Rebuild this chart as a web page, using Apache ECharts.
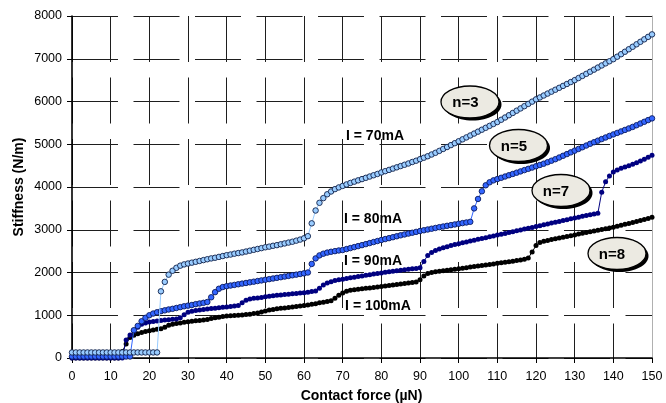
<!DOCTYPE html>
<html><head><meta charset="utf-8">
<script src="https://cdn.jsdelivr.net/npm/echarts@6/dist/echarts.min.js"></script>
<style>html,body{margin:0;padding:0;background:#fff}#c{width:666px;height:403px}</style>
</head><body><div id="c"></div>
<script>
// Contact force (µN) sample positions
const forceX = [
0,1,2,3,4,5,6,7,8,9,
10,11,12,13,14,15,16,17,18,19,
20,21,22,23,24,25,26,27,28,29,
30,31,32,33,34,35,36,37,38,39,
40,41,42,43,44,45,46,47,48,49,
50,51,52,53,54,55,56,57,58,59,
60,61,62,63,64,65,66,67,68,69,
70,71,72,73,74,75,76,77,78,79,
80,81,82,83,84,85,86,87,88,89,
90,91,92,93,94,95,96,97,98,99,
100,101,102,103,104,105,106,107,108,109,
110,111,112,113,114,115,116,117,118,119,
120,121,122,123,124,125,126,127,128,129,
130,131,132,133,134,135,136,137,138,139,
140,141,142,143,144,145,146,147,148,149,
150];

// n=3 (I = 70mA)
const stiffN3 = [
130,130,130,130,130,130,130,130,130,130,
130,130,130,130,130,130,130,130,130,130,
130,130,130,1560,1780,1950,2040,2110,2160,2190,
2210,2230,2250,2270,2290,2310,2330,2345,2365,2385,
2405,2420,2440,2455,2470,2490,2510,2530,2550,2570,
2590,2605,2625,2640,2660,2680,2700,2720,2745,2770,
2800,2850,3150,3450,3630,3740,3830,3895,3950,3990,
4025,4060,4095,4125,4155,4185,4215,4245,4275,4305,
4340,4370,4400,4430,4460,4490,4520,4550,4585,4615,
4650,4685,4720,4760,4800,4845,4890,4935,4980,5025,
5070,5115,5160,5205,5250,5295,5340,5385,5430,5475,
5520,5573,5626,5679,5732,5785,5838,5891,5944,5997,
6050,6095,6140,6185,6230,6275,6320,6365,6410,6455,
6500,6549,6598,6647,6696,6745,6794,6843,6892,6941,
6990,7048,7106,7164,7222,7280,7338,7396,7454,7512,
7570];

// n=5 (I = 80mA)
const stiffN5 = [
35,35,35,35,35,35,35,35,35,35,
35,35,35,35,35,35,650,750,860,940,
1000,1040,1070,1095,1115,1135,1150,1170,1190,1210,
1225,1240,1260,1275,1290,1310,1420,1540,1620,1660,
1680,1695,1710,1725,1740,1755,1770,1785,1800,1815,
1830,1845,1860,1875,1890,1905,1920,1935,1950,1965,
1980,2000,2200,2330,2400,2440,2465,2485,2500,2515,
2525,2548,2571,2594,2617,2640,2664,2688,2712,2736,
2760,2782,2804,2826,2848,2870,2890,2910,2930,2950,
2970,2988,3006,3024,3042,3060,3076,3092,3108,3124,
3140,3155,3170,3185,3500,3720,3900,4040,4110,4155,
4185,4215,4245,4275,4305,4335,4365,4395,4425,4455,
4485,4515,4545,4580,4615,4650,4690,4730,4770,4810,
4850,4890,4930,4970,5010,5047,5084,5121,5158,5195,
5230,5265,5300,5335,5370,5405,5445,5485,5525,5565,
5605];

// n=7 (I = 90mA)
const stiffN7 = [
0,0,0,0,0,0,0,0,0,0,
0,0,0,0,420,540,630,720,790,820,
840,855,868,878,888,896,904,912,940,1010,
1070,1095,1110,1125,1135,1145,1155,1165,1175,1185,
1195,1205,1215,1230,1290,1350,1380,1395,1405,1418,
1430,1442,1454,1465,1475,1485,1494,1502,1510,1518,
1528,1540,1553,1570,1630,1705,1755,1785,1810,1830,
1845,1860,1875,1890,1905,1920,1935,1950,1963,1976,
1990,2003,2016,2029,2042,2055,2065,2075,2085,2095,
2110,2260,2400,2470,2515,2550,2580,2605,2630,2655,
2675,2695,2715,2735,2755,2775,2795,2815,2835,2855,
2875,2895,2915,2935,2955,2975,2995,3015,3035,3055,
3075,3095,3115,3135,3155,3175,3195,3215,3235,3255,
3275,3295,3315,3335,3352,3368,3385,3880,4120,4260,
4350,4400,4440,4470,4500,4535,4570,4610,4650,4695,
4740];

// n=8 (I = 100mA)
const stiffN8 = [
0,0,0,0,0,0,0,0,0,0,
0,0,0,150,330,480,530,565,595,620,
640,655,670,685,720,765,790,805,820,835,
848,860,870,878,886,900,925,940,955,970,
980,988,995,1000,1008,1015,1025,1040,1055,1075,
1100,1120,1135,1150,1162,1172,1182,1192,1202,1215,
1228,1240,1255,1270,1290,1305,1320,1340,1400,1470,
1520,1560,1585,1598,1610,1620,1630,1640,1650,1660,
1670,1682,1694,1706,1718,1730,1742,1754,1766,1780,
1830,1920,1975,2000,2015,2030,2042,2054,2066,2078,
2090,2102,2114,2126,2138,2150,2162,2175,2188,2201,
2214,2227,2240,2253,2266,2279,2292,2310,2340,2480,
2630,2700,2730,2750,2770,2790,2808,2826,2844,2862,
2880,2898,2916,2934,2952,2970,2988,3006,3024,3042,
3060,3082,3104,3126,3148,3170,3194,3218,3242,3266,
3290];

const seriesNames = ['n=8', 'n=7', 'n=5', 'n=3'];
const currentLabels = ['I = 70mA', 'I = 80mA', 'I = 90mA', 'I = 100mA'];
const xTitle = 'Contact force (µN)';
const yTitle = 'Stiffness (N/m)';

const FONT = '"Liberation Sans", Arial, sans-serif';
function pairs(ys) { return forceX.map((x, i) => [x, ys[i]]); }

const chart = echarts.init(document.getElementById('c'), null, {renderer: 'canvas'});
const gridDash = { color: '#1e1e1e', width: 1, type: [46, 15.5] };

function bubble(cx, cy, label, tx) {
  return [
    { type: 'ellipse', z: 100, shape: { cx: cx + 2.5, cy: cy + 2.5, rx: 29, ry: 16 }, style: { fill: '#000' } },
    { type: 'ellipse', z: 101, shape: { cx: cx, cy: cy, rx: 29, ry: 16 }, style: { fill: '#ECEAE2', stroke: '#000', lineWidth: 1.3 } },
    { type: 'text', z: 102, x: tx, y: cy + 1, style: { text: label, fill: '#000', font: 'bold 15px ' + FONT, textAlign: 'center', textVerticalAlign: 'middle', align: 'center', verticalAlign: 'middle' } }
  ];
}
function tlabel(x, y, txt) {
  return { type: 'text', z: 90, x: x, y: y, style: { text: txt, fill: '#000', font: 'bold 14px ' + FONT, textAlign: 'center', textVerticalAlign: 'middle', align: 'center', verticalAlign: 'middle' } };
}

const option = {
  animation: false,
  backgroundColor: '#fff',
  grid: { left: 72, right: 14, top: 16, bottom: 45, containLabel: false },
  xAxis: {
    type: 'value', min: 0, max: 150, interval: 10,
    axisLine: { onZero: false, lineStyle: { color: '#000', width: 1.6 } },
    axisTick: { show: true, length: 5, lineStyle: { color: '#000', width: 1 } },
    axisLabel: { color: '#000', fontSize: 12.5, fontFamily: FONT, margin: 12, formatter: v => String(v) },
    splitLine: { show: true, showMaxLine: false, lineStyle: gridDash }
  },
  yAxis: [{
    type: 'value', min: 0, max: 8000, interval: 1000,
    axisLine: { show: true, lineStyle: { color: '#000', width: 1.6 } },
    axisTick: { show: true, length: 5, lineStyle: { color: '#000', width: 1 } },
    axisLabel: { color: '#000', fontSize: 12.5, fontFamily: FONT, margin: 10, formatter: v => String(v) },
    splitLine: { show: true, lineStyle: gridDash }
  }, {
    type: 'value', min: 0, max: 8000, interval: 1000, position: 'right',
    axisLine: { show: true, lineStyle: { color: '#b0b0b0', width: 1 } },
    axisTick: { show: false }, axisLabel: { show: false }, splitLine: { show: false }
  }],
  series: [
    { name: seriesNames[0], type: 'line', data: pairs(stiffN8), showAllSymbol: true, symbol: 'circle', symbolSize: 5,
      lineStyle: { color: '#000', width: 1 }, itemStyle: { color: '#000', borderColor: '#000', borderWidth: 0 }, z: 2 },
    { name: seriesNames[1], type: 'line', data: pairs(stiffN7), showAllSymbol: true, symbol: 'circle', symbolSize: 5,
      lineStyle: { color: '#000080', width: 1 }, itemStyle: { color: '#000080', borderColor: '#000060', borderWidth: 0 }, z: 3 },
    { name: seriesNames[2], type: 'line', data: pairs(stiffN5), showAllSymbol: true, symbol: 'circle', symbolSize: 5.5,
      lineStyle: { color: '#3366FF', width: 1 }, itemStyle: { color: '#3366FF', borderColor: '#0a1a60', borderWidth: 0.9 }, z: 4 },
    { name: seriesNames[3], type: 'line', data: pairs(stiffN3), showAllSymbol: true, symbol: 'circle', symbolSize: 5.5,
      lineStyle: { color: '#99CCFF', width: 1 }, itemStyle: { color: '#99CCFF', borderColor: '#10204a', borderWidth: 0.9 }, z: 5 }
  ],
  graphic: [].concat(
    bubble(470, 102, 'n=3', 465.5),
    bubble(518.5, 145.5, 'n=5', 514),
    bubble(561, 190.5, 'n=7', 556),
    bubble(617, 253.5, 'n=8', 612),
    [
      tlabel(375, 136, currentLabels[0]),
      tlabel(373, 219.5, currentLabels[1]),
      tlabel(373, 261, currentLabels[2]),
      tlabel(378, 306, currentLabels[3]),
      { type: 'text', z: 90, x: 361.5, y: 396.5, style: { text: xTitle, fill: '#000', font: 'bold 14px ' + FONT, textAlign: 'center', textVerticalAlign: 'middle', align: 'center', verticalAlign: 'middle' } },
      { type: 'text', z: 90, x: 19, y: 187, rotation: Math.PI / 2, style: { text: yTitle, fill: '#000', font: 'bold 14px ' + FONT, textAlign: 'center', textVerticalAlign: 'middle', align: 'center', verticalAlign: 'middle' } }
    ]
  )
};
chart.setOption(option);
</script>
</body></html>
